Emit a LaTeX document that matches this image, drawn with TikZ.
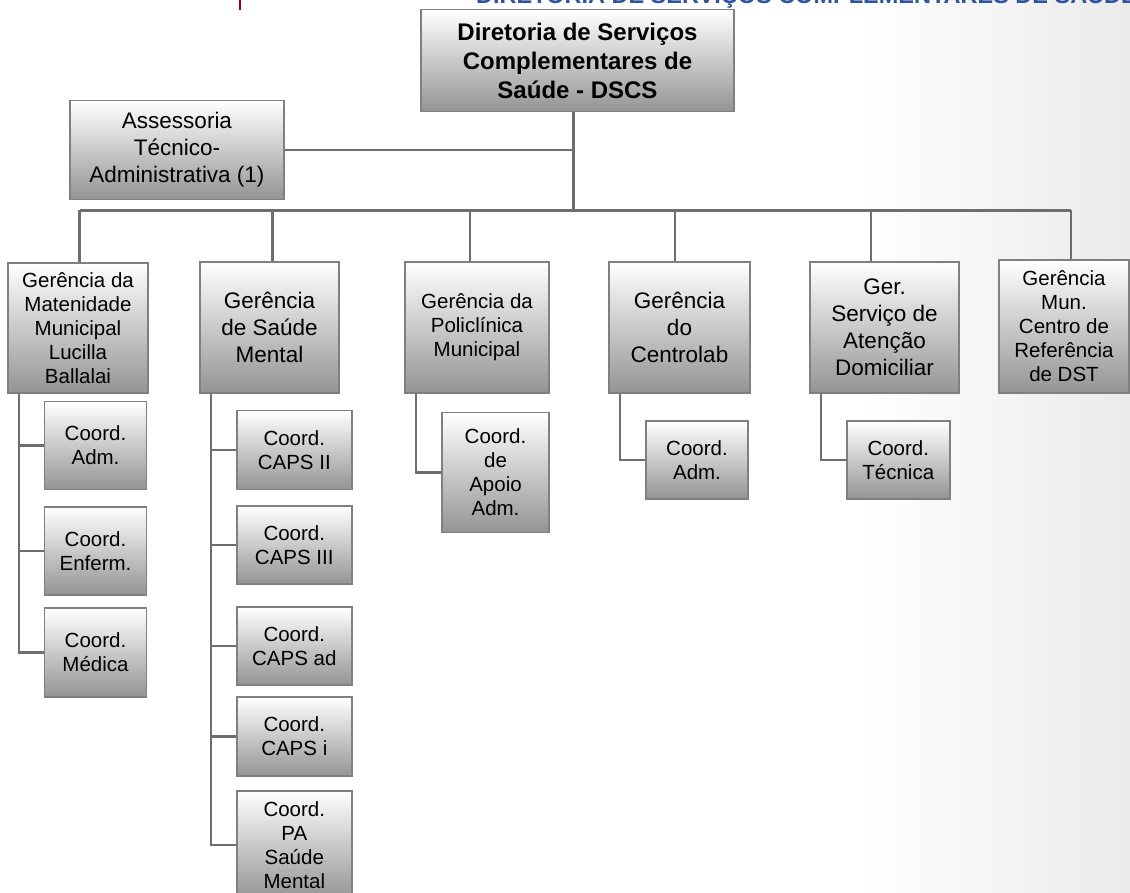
\documentclass[tikz,border=0pt]{standalone}
\usepackage{fontspec}
\setmainfont{Liberation Sans}
\definecolor{titleblue}{RGB}{46,84,160}
\definecolor{linegray}{RGB}{110,110,110}
\tikzset{%
  % Specifications for style of nodes:
  base/.style = {
    draw=black!50,
    line width=1.4pt,
    top color=white,
    bottom color=black!42,
    align=center,
    inner sep=1pt
  },
  big/.style={base, font=\fontsize{22.5}{27}\selectfont},
  small/.style={base, font=\fontsize{20.5}{24}\selectfont},
  link/.style={draw=linegray, line width=2.6pt},
}

\begin{document}
\begin{tikzpicture}[
  x=1pt, y=-1pt,
  align=center,
  ]
  \useasboundingbox (0,0) rectangle (1130,893);
  \clip (0,0) rectangle (1130,893);
  % background
  \shade[left color=white, right color=black!8] (860,0) rectangle (1130,893);
  \draw[red!65!black, line width=2pt] (240,0) -- (240,10);
  \node (title) [anchor=base west, text=titleblue, inner sep=0pt,
    font=\fontsize{23.5}{28}\selectfont\bfseries] at (476,4)
  {DIRETORIA DE SERVIÇOS COMPLEMENTARES DE SAÚDE};
  % nodes
  \node (dir) [base, minimum width=313, minimum height=102,
    font=\fontsize{24}{29}\selectfont\bfseries] at (577.5,60.5)
  {Diretoria de Serviços\\ Complementares de\\ Saúde - DSCS};
  \node (ases) [big, minimum width=214, minimum height=99] at (177,150)
  {Assessoria\\ Técnico-\\ Administrativa (1)};
  \node (mat)  [small, minimum width=140, minimum height=130] at (78,328)
  {Gerência da\\ Matenidade\\ Municipal\\ Lucilla\\ Ballalai};
  \node (sm)   [big, minimum width=139, minimum height=131] at (269.5,327.5)
  {Gerência\\ de Saúde\\ Mental};
  \node (poli) [small, minimum width=144, minimum height=131] at (477,327.5)
  {Gerência da\\ Policlínica\\ Municipal};
  \node (clab) [big, minimum width=141, minimum height=131] at (679.5,327.5)
  {Gerência\\ do\\ Centrolab};
  \node (sad)  [big, minimum width=149, minimum height=131] at (884.5,327.5)
  {Ger.\\ Serviço de\\ Atenção\\ Domiciliar};
  \node (dst)  [small, minimum width=130, minimum height=133] at (1064,326.5)
  {Gerência\\ Mun.\\ Centro de\\ Referência\\ de DST};
  % coordinations
  \node (c1adm) [small, minimum width=102, minimum height=88] at (95.5,445.5)
  {Coord.\\ Adm.};
  \node (c1enf) [small, minimum width=102, minimum height=88] at (95.5,551)
  {Coord.\\ Enferm.};
  \node (c1med) [small, minimum width=102, minimum height=89] at (95.5,652.5)
  {Coord.\\ Médica};
  \node (c2ii)  [small, minimum width=115, minimum height=79] at (294.3,450)
  {Coord.\\ CAPS II};
  \node (c2iii) [small, minimum width=115, minimum height=78] at (294.3,545)
  {Coord.\\ CAPS III};
  \node (c2ad)  [small, minimum width=115, minimum height=78] at (294.3,646)
  {Coord.\\ CAPS ad};
  \node (c2i)   [small, minimum width=115, minimum height=79] at (294.3,736.5)
  {Coord.\\ CAPS i};
  \node (c2pa)  [small, minimum width=115, minimum height=108] at (294.3,845)
  {Coord.\\ PA\\ Saúde\\ Mental};
  \node (c3apoio) [small, minimum width=107, minimum height=120] at (495.5,472.5)
  {Coord.\\ de\\ Apoio\\ Adm.};
  \node (c4adm) [small, minimum width=102, minimum height=78] at (697,460)
  {Coord.\\ Adm.};
  \node (c5tec) [small, minimum width=103, minimum height=78] at (898.3,460)
  {Coord.\\ Técnica};
  % lines
  \coordinate (hub) at (573.3,210.5);
  \foreach \d/\x in {d1/79.6, d2/272.5, d3/470, d4/675, d5/871, d6/1071}
    \coordinate (\d) at (\x,210.5);
  \draw[link] (hub |- dir.south) -- (hub);
  \draw[link] (ases.east) -- (ases.east -| hub);
  \draw[link] (d1) -- (d6);
  \foreach \d/\g in {d1/mat, d2/sm, d3/poli, d4/clab, d5/sad, d6/dst}
    \draw[link] (\d) -- (\d |- \g.north);
  \foreach \g/\t in {mat/t1, sm/t2, poli/t3, clab/t4, sad/t5}
    \coordinate (\t) at ([xshift=11.5]\g.south west);
  \foreach \t/\c in {t1/c1adm, t1/c1enf, t1/c1med,
    t2/c2ii, t2/c2iii, t2/c2ad, t2/c2i, t2/c2pa,
    t3/c3apoio, t4/c4adm, t5/c5tec}
    \draw[link] (\t) |- (\c.west);
\end{tikzpicture}
\end{document}
